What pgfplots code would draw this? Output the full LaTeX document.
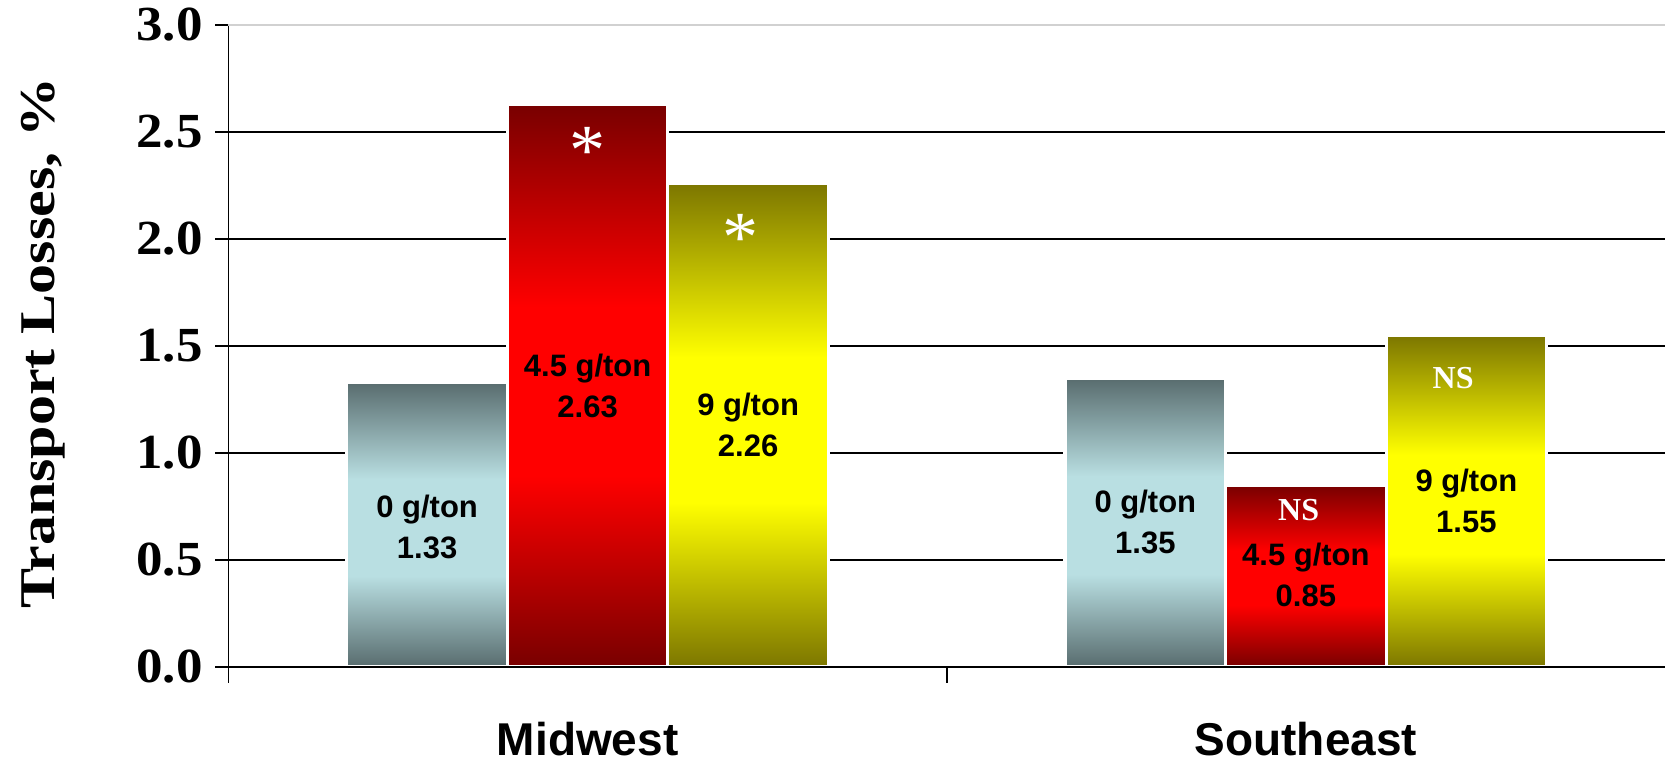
\documentclass[border=0pt]{standalone}
\usepackage{pgfplots}
\pgfplotsset{compat=1.18}
\usepackage{fontspec}
\setmainfont{Liberation Serif}
\newfontfamily\labelfont{Liberation Sans}

% bar colours: dark at the ends, bright band in the middle
\definecolor{grayDark}{RGB}{88,108,110}
\definecolor{grayLight}{RGB}{185,223,226}
\definecolor{redDark}{RGB}{120,0,0}
\definecolor{redLight}{RGB}{255,0,0}
\definecolor{oliveDark}{RGB}{124,118,0}
\definecolor{oliveLight}{RGB}{255,255,0}

\pgfdeclareverticalshading{graybar}{100bp}{color(0bp)=(grayDark); color(25bp)=(grayDark); color(41bp)=(grayLight); color(58bp)=(grayLight); color(75bp)=(grayDark); color(100bp)=(grayDark)}
\pgfdeclareverticalshading{redbar}{100bp}{color(0bp)=(redDark); color(25bp)=(redDark); color(42bp)=(redLight); color(57bp)=(redLight); color(75bp)=(redDark); color(100bp)=(redDark)}
\pgfdeclareverticalshading{olivebar}{100bp}{color(0bp)=(oliveDark); color(25bp)=(oliveDark); color(42bp)=(oliveLight); color(57bp)=(oliveLight); color(75bp)=(oliveDark); color(100bp)=(oliveDark)}

\pgfplotsset{
  lossbar/.style={ybar, bar width=0.2235, draw=white, line width=1.6pt, shade, shading=#1},
}

\newcommand{\barlabel}{\labelfont\bfseries\fontsize{15.5}{20.5}\selectfont}
\newcommand{\sigfont}{\bfseries\fontsize{16}{16}\selectfont}
\newcommand{\starfont}{\fontsize{36}{36}\selectfont}

\begin{document}
\begin{tikzpicture}
\begin{axis}[
  scale only axis,
  width=718.25pt, height=321pt,
  xmin=-0.5, xmax=1.5, ymin=0, ymax=3,
  axis x line*=bottom, axis y line*=left,
  axis line style={black, line width=0.9pt},
  tick align=outside,
  major tick length=6.5pt, minor tick length=8pt,
  tick style={black, line width=0.9pt},
  xtick={0,1}, xticklabels={Midwest,Southeast},
  every major x tick/.append style={draw=none},
  minor xtick={-0.5,0.5},
  xticklabel style={font=\labelfont\bfseries\fontsize{23}{23}\selectfont, anchor=base, yshift=-37.8pt},
  ytick={0,0.5,1,1.5,2,2.5,3},
  yticklabels={0.0,0.5,1.0,1.5,2.0,2.5,3.0},
  yticklabel style={font=\bfseries\fontsize{24.5}{24.5}\selectfont, xscale=1.08, xshift=-2.4pt},
  ymajorgrids,
  y grid style={black, line width=0.8pt},
  ylabel={\scalebox{1.2}[1]{Transport Losses, \%}},
  ylabel style={font=\bfseries\fontsize{25}{25}\selectfont, at={(axis description cs:-0.1208,0.505)}, anchor=base, inner sep=0pt},
  clip=false,
]
% Midwest
\addplot[lossbar=graybar, bar shift=-0.2235] coordinates {(0,1.33)};
\addplot[lossbar=redbar, bar shift=0] coordinates {(0,2.63)};
\addplot[lossbar=olivebar, bar shift=0.2235] coordinates {(0,2.26)};
% Southeast
\addplot[lossbar=graybar, bar shift=-0.2235] coordinates {(1,1.35)};
\addplot[lossbar=redbar, bar shift=0] coordinates {(1,0.85)};
\addplot[lossbar=olivebar, bar shift=0.2235] coordinates {(1,1.55)};

% baseline over the bar edges, pale top rule
\draw[black, line width=0.9pt] (axis cs:-0.5,0) -- (axis cs:1.5,0);
\draw[black!18, line width=1pt] (axis cs:-0.5,3) -- (axis cs:1.5,3);

% dose and value labels
\node[font=\barlabel, align=center] at (axis cs:-0.2235,0.655) {0 g/ton\\1.33};
\node[font=\barlabel, align=center] at (axis cs:0,1.313) {4.5 g/ton\\2.63};
\node[font=\barlabel, align=center] at (axis cs:0.2235,1.131) {9 g/ton\\2.26};
\node[font=\barlabel, align=center] at (axis cs:0.7765,0.677) {0 g/ton\\1.35};
\node[font=\barlabel, align=center] at (axis cs:1,0.431) {4.5 g/ton\\0.85};
\node[font=\barlabel, align=center] at (axis cs:1.2235,0.778) {9 g/ton\\1.55};

% significance marks
\node[text=white, font=\starfont] at (axis cs:0,2.41) {*};
\node[text=white, font=\starfont] at (axis cs:0.213,2.007) {*};
\node[text=white, font=\sigfont] at (axis cs:0.99,0.732) {NS};
\node[text=white, font=\sigfont] at (axis cs:1.205,1.352) {NS};
\end{axis}
\pgfresetboundingbox
\path[use as bounding box] ([xshift=-114.25pt, yshift=-47.5pt]current axis.south west) rectangle ([yshift=12.5pt]current axis.north east);
\end{tikzpicture}
\end{document}
